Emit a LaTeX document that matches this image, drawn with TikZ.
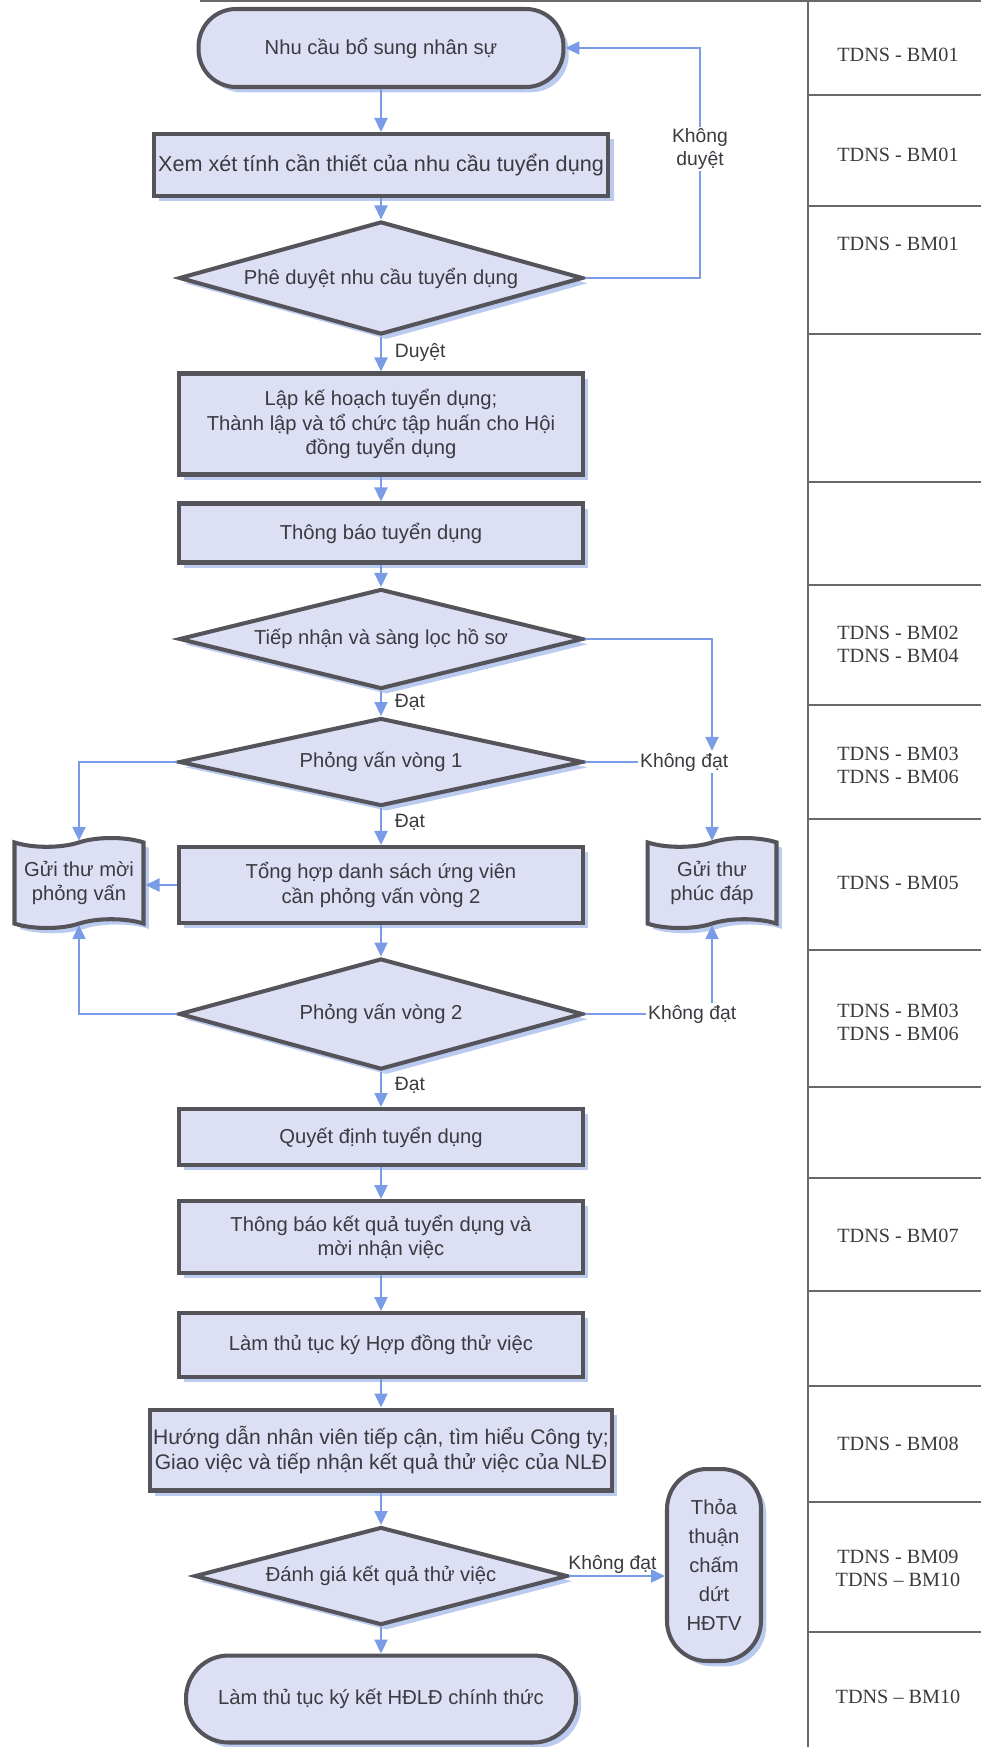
\documentclass[tikz,border=0pt]{standalone}
\usepackage{fontspec}
\setmainfont{Liberation Serif}
\newfontfamily\flowfont{Liberation Sans}
\usetikzlibrary{shapes.geometric,shapes.symbols,arrows.meta,shadows}

\definecolor{boxfill}{RGB}{221,223,245}
\definecolor{boxline}{RGB}{84,84,90}
\definecolor{flowblue}{RGB}{122,156,230}
\definecolor{shadowblue}{RGB}{170,190,236}
\definecolor{inkgray}{RGB}{58,58,64}
\definecolor{tablegray}{RGB}{105,105,105}

\tikzset{
    box/.style={draw=boxline, line width=2.3pt, fill=boxfill, text=inkgray,
        font=\flowfont\fontsize{11.5}{14}\selectfont, align=center, inner sep=1pt,
        drop shadow={shadow xshift=3pt, shadow yshift=-3pt, fill=shadowblue, opacity=0.8}},
    proc/.style={box, rectangle, minimum width=8.08cm},
    term/.style={box, rectangle, rounded corners=0.75cm, minimum width=7.3cm, minimum height=1.56cm},
    decision/.style={box, diamond, aspect=3.6, inner sep=0pt, minimum width=8.08cm},
    letter/.style={box, tape, minimum width=2.58cm, minimum height=1.8cm},
    flowline/.style={draw=flowblue, line width=1.3pt},
    flowarrow/.style={flowline, -{Triangle[length=0.28cm,width=0.26cm]}},
    lbl/.style={text=inkgray, font=\flowfont\fontsize{11}{13}\selectfont, inner sep=1pt},
    tabline/.style={draw=tablegray, line width=0.8pt},
    formtext/.style={text=inkgray, font=\fontsize{11.5}{13}\selectfont, align=center}
}

\begin{document}
\begin{tikzpicture}[x=0.02cm, y=-0.02cm]
    \useasboundingbox (0,0) rectangle (981,1747);

    %% Form column on the right
    \draw[tabline] (808,0) -- (808,1747);
    \draw[tabline] (200,1) -- (981,1);
    \foreach \y in {95,206,334,482,585,705,819,950,1087,1178,1291,1386,1502,1632}
        \draw[tabline] (808,\y) -- (981,\y);
    \foreach \y/\form [count=\i] in {55/{TDNS - BM01}, 155/{TDNS - BM01}, 244/{TDNS - BM01},
            644/{TDNS - BM02\\TDNS - BM04}, 765/{TDNS - BM03\\TDNS - BM06},
            883/{TDNS - BM05}, 1022/{TDNS - BM03\\TDNS - BM06}, 1236/{TDNS - BM07},
            1444/{TDNS - BM08}, 1568/{TDNS - BM09\\TDNS – BM10}, 1697/{TDNS – BM10}}
        \node[formtext] (form\i) at (898,\y) {\form};

    %% Main flow
    % Request and approval
    \node[term] (need) at (381,48) {Nhu cầu bổ sung nhân sự};
    \node[proc, minimum width=9.1cm, minimum height=1.24cm, font=\flowfont\fontsize{12.3}{14}\selectfont] (review) at (381,165)
        {Xem xét tính cần thiết của nhu cầu tuyển dụng};
    \node[decision, minimum height=2.26cm] (approve) at (381,278) {Phê duyệt nhu cầu tuyển dụng};

    % Planning and screening
    \node[proc, minimum height=2.02cm] (plan) at (381,424)
        {Lập kế hoạch tuyển dụng;\\Thành lập và tổ chức tập huấn cho Hội\\đồng tuyển dụng};
    \node[proc, minimum height=1.18cm] (announce) at (381,533) {Thông báo tuyển dụng};
    \node[decision, minimum height=2cm] (screen) at (381,639) {Tiếp nhận và sàng lọc hồ sơ};

    % Interviews
    \node[decision, minimum height=1.76cm] (round1) at (381,762) {Phỏng vấn vòng 1};
    \node[proc, minimum height=1.52cm] (shortlist) at (381,885)
        {Tổng hợp danh sách ứng viên\\cần phỏng vấn vòng 2};
    \node[decision, minimum height=2.22cm] (round2) at (381,1014) {Phỏng vấn vòng 2};
    \node[letter] (invite) at (79,883) {Gửi thư mời\\phỏng vấn};
    \node[letter] (reply) at (712,883) {Gửi thư\\phúc đáp};

    % Hiring and probation
    \node[proc, minimum height=1.12cm] (decide) at (381,1137) {Quyết định tuyển dụng};
    \node[proc, minimum height=1.44cm] (notify) at (381,1237)
        {Thông báo kết quả tuyển dụng và\\mời nhận việc};
    \node[proc, minimum height=1.28cm] (trial) at (381,1345) {Làm thủ tục ký Hợp đồng thử việc};
    \node[proc, minimum width=9.24cm, minimum height=1.62cm, font=\flowfont\fontsize{12}{14.5}\selectfont] (guide) at (381,1450)
        {Hướng dẫn nhân viên tiếp cận, tìm hiểu Công ty;\\Giao việc và tiếp nhận kết quả thử việc của NLĐ};
    \node[decision, minimum width=7.46cm, minimum height=1.96cm] (evaluate) at (381,1576)
        {Đánh giá kết quả thử việc};
    \node[term, minimum width=7.8cm, minimum height=1.74cm, rounded corners=0.85cm] (sign) at (381,1699)
        {Làm thủ tục ký kết HĐLĐ chính thức};
    \node[box, rectangle, rounded corners=0.8cm, minimum width=1.88cm, minimum height=3.84cm,
        font=\flowfont\fontsize{11.5}{16.5}\selectfont] (endtrial) at (714,1565)
        {Thỏa\\thuận\\chấm\\dứt\\HĐTV};

    % Failure labels
    \node[lbl, anchor=west] (fail1) at (638,762) {Không đạt};
    \node[lbl, anchor=west] (fail2) at (646,1014) {Không đạt};
    \coordinate (loopx) at (700,0);

    %% Connectors
    \draw[flowarrow] (need) -- (review);
    \draw[flowarrow] (review) -- (approve);
    \draw[flowarrow] (approve) -- node[lbl, right=0.22cm, pos=0.45] {Duyệt} (plan);
    \draw[flowarrow] (approve.east) -- (approve.east -| loopx) |- node[lbl, fill=white, align=center, pos=0.28] {Không\\duyệt} (need.east);
    \draw[flowarrow] (plan) -- (announce);
    \draw[flowarrow] (announce) -- (screen);
    \draw[flowarrow] (screen) -- node[lbl, right=0.22cm, pos=0.45] {Đạt} (round1);
    \draw[flowarrow] (round1) -- node[lbl, right=0.22cm, pos=0.4] {Đạt} (shortlist);
    \draw[flowarrow] (shortlist) -- (round2);
    \draw[flowarrow] (round2) -- node[lbl, right=0.22cm, pos=0.4] {Đạt} (decide);
    \draw[flowarrow] (decide) -- (notify);
    \draw[flowarrow] (notify) -- (trial);
    \draw[flowarrow] (trial) -- (guide);
    \draw[flowarrow] (guide) -- (evaluate);
    \draw[flowarrow] (evaluate) -- (sign);

    % Rejections to the reply letter
    \draw[flowarrow] (screen.east) -| (reply.north |- fail1.north);
    \draw[flowline] (round1.east) -- (fail1.west);
    \draw[flowarrow] (reply.north |- fail1.south) -- (reply.north);
    \draw[flowline] (round2.east) -- (fail2.west);
    \draw[flowarrow] (reply.south |- fail2.north) -- (reply.south);

    % Invitations to the second round
    \draw[flowarrow] (round1.west) -| (invite.north);
    \draw[flowarrow] (shortlist.west) -- (shortlist.west -| invite.east);
    \draw[flowarrow] (round2.west) -| (invite.south);

    % Failed probation
    \draw[flowarrow] (evaluate.east) -- node[lbl, above, pos=0.45] {Không đạt} (evaluate.east -| endtrial.west);

\end{tikzpicture}
\end{document}
